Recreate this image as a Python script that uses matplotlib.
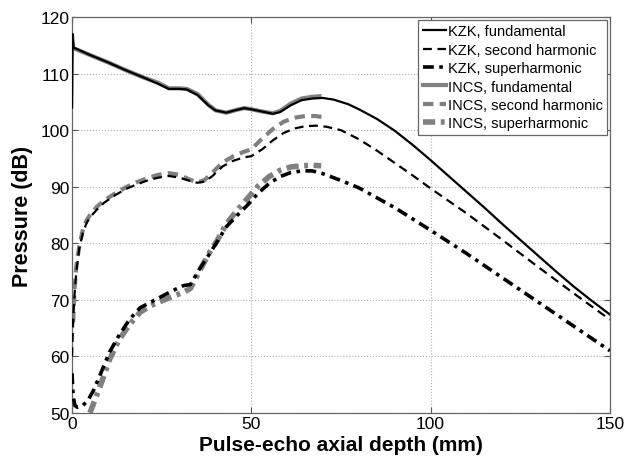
import matplotlib
matplotlib.use("Agg")
import matplotlib.pyplot as plt

plt.rcParams['font.family'] = ['Liberation Sans', 'DejaVu Sans']

# KZK fundamental
kzk_f_x = [0, 0.2, 0.5, 5, 10, 15, 20, 24, 27, 30, 32, 35, 38, 40, 43, 46, 48, 50, 53, 56, 58, 61, 64, 67, 70, 73, 77, 80, 85, 90, 95, 100, 105, 110, 115, 120, 125, 130, 135, 140, 145, 150]
kzk_f_y = [104, 117, 114.6, 113.3, 112, 110.6, 109.3, 108.2, 107.3, 107.3, 107.2, 106.2, 104.4, 103.5, 103.1, 103.6, 103.9, 103.7, 103.3, 102.9, 103.2, 104.4, 105.3, 105.6, 105.7, 105.4, 104.6, 103.7, 102.0, 99.9, 97.4, 94.7, 91.9, 89.1, 86.3, 83.4, 80.6, 77.8, 75.0, 72.3, 69.8, 67.4]

# KZK second harmonic
kzk_2_x = [0, 0.3, 0.7, 1.2, 2, 3, 4, 5, 7, 9, 12, 15, 18, 21, 24, 27, 30, 33, 35, 37, 39, 42, 45, 48, 50, 53, 56, 59, 62, 65, 68, 71, 75, 80, 85, 90, 95, 100, 110, 120, 130, 140, 150]
kzk_2_y = [60, 66, 71, 75, 79, 81.8, 83.5, 84.6, 86, 87.2, 88.5, 89.6, 90.4, 91.1, 91.6, 91.9, 91.6, 91.0, 90.7, 90.9, 91.8, 93.6, 94.6, 95.2, 95.4, 96.6, 98.2, 99.5, 100.3, 100.7, 100.8, 100.6, 100.0, 98.4, 96.4, 94.2, 92.0, 89.7, 85.3, 80.6, 75.8, 71.1, 66.5]

# KZK superharmonic
kzk_s_x = [0, 0.3, 0.8, 1.5, 3, 4.5, 6, 8, 10.5, 13, 16, 19, 22, 25, 28, 31, 33, 35.5, 38, 40.5, 43, 46, 49, 52, 55, 58, 61, 64, 67, 70, 75, 80, 90, 100, 110, 120, 130, 140, 150]
kzk_s_y = [57, 53, 51.3, 51, 51.3, 52.3, 54, 57, 60.8, 63.6, 66.5, 68.6, 69.6, 70.6, 71.6, 72.5, 72.7, 75.4, 77.8, 80.3, 82.9, 84.9, 86.8, 88.9, 90.6, 91.8, 92.5, 92.8, 92.8, 92.3, 91.1, 89.8, 86.3, 82.3, 78.2, 73.9, 69.6, 65.3, 61.0]

# INCS fundamental
incs_f_x = [0, 5, 10, 15, 20, 24, 27, 30, 32, 35, 38, 40, 43, 46, 48, 50, 53, 56, 58, 61, 64, 67, 69]
incs_f_y = [114.6, 113.3, 112, 110.6, 109.3, 108.4, 107.4, 107.4, 107.3, 106.4, 104.5, 103.5, 103.1, 103.6, 103.9, 103.7, 103.3, 103.0, 103.4, 104.7, 105.6, 105.9, 106.0]

# INCS second harmonic
incs_2_x = [0.3, 0.7, 1.2, 2, 3, 4, 5, 7, 9, 12, 15, 18, 21, 24, 27, 30, 33, 35, 37, 39, 42, 45, 48, 50, 53, 56, 59, 62, 65, 68, 70]
incs_2_y = [66, 72, 76, 79.5, 82.3, 84, 85, 86.5, 87.6, 88.8, 89.9, 90.8, 91.5, 92.1, 92.4, 92.1, 91.2, 90.8, 91.2, 92.4, 94.3, 95.4, 96.2, 96.6, 98.5, 100.2, 101.5, 102.2, 102.5, 102.5, 102.3]

# INCS superharmonic
incs_s_x = [5, 6.5, 8, 10.5, 13, 16, 19, 22, 25, 28, 31, 33, 35.5, 38, 40.5, 43, 46, 49, 52, 55, 58, 61, 64, 67, 69.5]
incs_s_y = [50, 52.5, 55, 59.5, 62.8, 65.6, 67.8, 69.0, 69.8, 70.6, 71.3, 72.0, 75.0, 78.0, 80.5, 83.4, 85.8, 88.0, 90.2, 91.8, 92.9, 93.5, 93.7, 93.8, 93.7]

labels = ["KZK, fundamental", "KZK, second harmonic", "KZK, superharmonic",
          "INCS, fundamental", "INCS, second harmonic", "INCS, superharmonic"]
x_ticks = [0, 50, 100, 150]
y_ticks = [50, 60, 70, 80, 90, 100, 110, 120]

fig = plt.figure(figsize=(6.32, 4.64), dpi=100)
ax = fig.add_axes([0.114, 0.108, 0.851, 0.853])

gray = '#808080'
ax.plot(kzk_f_x, kzk_f_y, color='black', lw=1.6, ls='-', label=labels[0], zorder=3)
ax.plot(kzk_2_x, kzk_2_y, color='black', lw=1.6, ls=(0, (4, 2.5)), label=labels[1], zorder=3)
ax.plot(kzk_s_x, kzk_s_y, color='black', lw=2.6, ls=(0, (3, 1.5, 1, 1.5)), label=labels[2], zorder=3)
ax.plot(incs_f_x, incs_f_y, color=gray, lw=3.0, ls='-', label=labels[3], zorder=2)
ax.plot(incs_2_x, incs_2_y, color=gray, lw=3.0, ls=(0, (2.5, 1.5)), label=labels[4], zorder=2)
ax.plot(incs_s_x, incs_s_y, color=gray, lw=4.0, ls=(0, (2.2, 1.0, 0.7, 1.0)), label=labels[5], zorder=2)

ax.set_xlim(0, 150)
ax.set_ylim(50, 120)
ax.set_xticks(x_ticks)
ax.set_yticks(y_ticks)
ax.tick_params(direction='in', top=True, right=True, labelsize=12.5, length=4, color='#555555', pad=2)
ax.grid(True, ls=':', color='#b0b0b0', lw=0.8)
for s in ax.spines.values():
    s.set_color('#666666')
    s.set_linewidth(0.9)

ax.set_xlabel('Pulse-echo axial depth (mm)', fontsize=15, fontweight='bold', labelpad=3)
ax.set_ylabel('Pressure (dB)', fontsize=15.5, fontweight='bold', labelpad=5)

leg = ax.legend(loc='upper right', fontsize=10.5, handlelength=1.6, handletextpad=0.1,
                labelspacing=0.3, borderpad=0.3, fancybox=False, framealpha=1,
                edgecolor='#666666', borderaxespad=0.2)
leg.get_frame().set_linewidth(0.9)

fig.savefig('out.png', dpi=100)
